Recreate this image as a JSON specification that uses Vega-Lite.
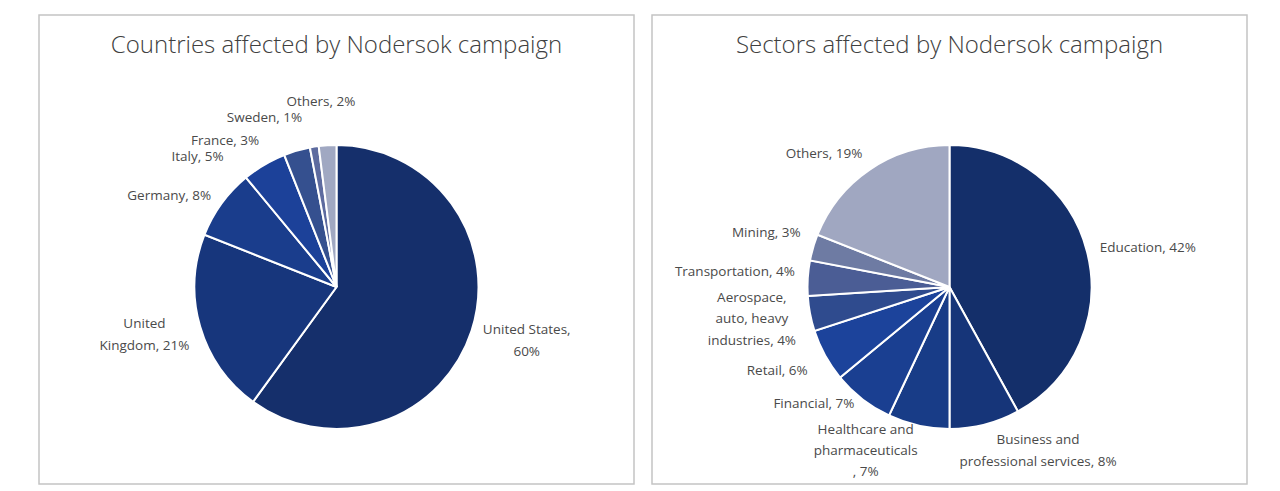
{
  "$schema": "https://vega.github.io/schema/vega-lite/v6.json",
  "padding": {"left": 38, "top": 14, "right": 0, "bottom": 0},
  "autosize": {"type": "pad"},
  "spacing": 16,
  "background": "white",
  "config": {
    "view": {"stroke": "#c4c4c4", "strokeWidth": 1.5},
    "font": "Open Sans",
    "title": {"fontSize": 24, "fontWeight": 300, "color": "#404040", "anchor": "middle", "offset": -43, "font": "Open Sans"}
  },
  "resolve": {"scale": {"color": "independent", "theta": "independent"}},
  "datasets": {
    "countries": [
      {"Country": "United States", "Value": 60, "i": 1, "Label": "United States,\n60%"},
      {"Country": "United Kingdom", "Value": 21, "i": 2, "Label": "United\nKingdom, 21%"},
      {"Country": "Germany", "Value": 8, "i": 3, "Label": "Germany, 8%"},
      {"Country": "Italy", "Value": 5, "i": 4, "Label": "Italy, 5%"},
      {"Country": "France", "Value": 3, "i": 5, "Label": "France, 3%"},
      {"Country": "Sweden", "Value": 1, "i": 6, "Label": "Sweden, 1%"},
      {"Country": "Others", "Value": 2, "i": 7, "Label": "Others, 2%"}
    ],
    "sectors": [
      {"Sector": "Education", "Value": 42, "i": 1, "Label": "Education, 42%"},
      {"Sector": "Business and professional services", "Value": 8, "i": 2, "Label": "Business and\nprofessional services, 8%"},
      {"Sector": "Healthcare and pharmaceuticals", "Value": 7, "i": 3, "Label": "Healthcare and\npharmaceuticals\n, 7%"},
      {"Sector": "Financial", "Value": 7, "i": 4, "Label": "Financial, 7%"},
      {"Sector": "Retail", "Value": 6, "i": 5, "Label": "Retail, 6%"},
      {"Sector": "Aerospace, auto, heavy industries", "Value": 4, "i": 6, "Label": "Aerospace,\nauto, heavy\nindustries, 4%"},
      {"Sector": "Transportation", "Value": 4, "i": 7, "Label": "Transportation, 4%"},
      {"Sector": "Mining", "Value": 3, "i": 8, "Label": "Mining, 3%"},
      {"Sector": "Others", "Value": 19, "i": 9, "Label": "Others, 19%"}
    ]
  },
  "hconcat": [
    {
      "width": 595,
      "height": 469,
      "view": {"stroke": "#c4c4c4", "strokeWidth": 1.5},
      "title": {"text": "Countries affected by Nodersok campaign"},
      "data": {"name": "countries"},
      "encoding": {
        "theta": {"field": "Value", "type": "quantitative", "stack": true},
        "order": {"field": "i", "type": "quantitative"},
        "color": {
          "field": "Country", "type": "nominal", "legend": null,
          "scale": {
            "domain": ["United States", "United Kingdom", "Germany", "Italy", "France", "Sweden", "Others"],
            "range": ["#152f6b", "#17367c", "#1a3d8c", "#1c4199", "#35508f", "#5d6b9f", "#a0a8c2"]
          }
        }
      },
      "layer": [
        {"mark": {"type": "arc", "outerRadius": 142, "stroke": "white", "strokeWidth": 2, "yOffset": 37.5}},
        {
          "mark": {"type": "text", "radius": 200, "align": "center", "baseline": "middle", "lineBreak": "\n", "lineHeight": 22, "yOffset": 37.5, "dy": -19, "fontSize": 13.5},
          "encoding": {
            "detail": {"field": "Country", "type": "nominal"},
            "color": {"value": "#4a4a4a"},
            "text": {"condition": {"test": "indexof(['United States','United Kingdom'], datum.Country) >= 0", "field": "Label", "type": "nominal"}, "value": ""}
          }
        },
        {
          "mark": {"type": "text", "radius": 185, "align": "center", "baseline": "middle", "yOffset": 37.5, "dx": -4, "fontSize": 13.5},
          "encoding": {
            "detail": {"field": "Country", "type": "nominal"},
            "color": {"value": "#4a4a4a"},
            "text": {"condition": {"test": "datum.Country === 'Others'", "field": "Label", "type": "nominal"}, "value": ""}
          }
        },
        {
          "mark": {"type": "text", "radius": 155, "align": "right", "baseline": "middle", "yOffset": 37.5, "fontSize": 13.5},
          "encoding": {
            "detail": {"field": "Country", "type": "nominal"},
            "color": {"value": "#4a4a4a"},
            "text": {"condition": {"test": "datum.Country === 'Germany'", "field": "Label", "type": "nominal"}, "value": ""}
          }
        },
        {
          "mark": {"type": "text", "radius": 155, "align": "right", "baseline": "middle", "yOffset": 37.5, "dx": -34, "dy": 3, "fontSize": 13.5},
          "encoding": {
            "detail": {"field": "Country", "type": "nominal"},
            "color": {"value": "#4a4a4a"},
            "text": {"condition": {"test": "indexof(['Italy','France'], datum.Country) >= 0", "field": "Label", "type": "nominal"}, "value": ""}
          }
        },
        {
          "mark": {"type": "text", "radius": 155, "align": "right", "baseline": "middle", "yOffset": 37.5, "dx": -10, "dy": -16, "fontSize": 13.5},
          "encoding": {
            "detail": {"field": "Country", "type": "nominal"},
            "color": {"value": "#4a4a4a"},
            "text": {"condition": {"test": "datum.Country === 'Sweden'", "field": "Label", "type": "nominal"}, "value": ""}
          }
        }
      ]
    },
    {
      "width": 595,
      "height": 469,
      "view": {"stroke": "#c4c4c4", "strokeWidth": 1.5},
      "title": {"text": "Sectors affected by Nodersok campaign"},
      "data": {"name": "sectors"},
      "encoding": {
        "theta": {"field": "Value", "type": "quantitative", "stack": true},
        "order": {"field": "i", "type": "quantitative"},
        "color": {
          "field": "Sector", "type": "nominal", "legend": null,
          "scale": {
            "domain": ["Education", "Business and professional services", "Healthcare and pharmaceuticals", "Financial", "Retail", "Aerospace, auto, heavy industries", "Transportation", "Mining", "Others"],
            "range": ["#142f6a", "#163579", "#183c87", "#1a3f91", "#1c439b", "#2f4b8e", "#4b5d95", "#6e7ba3", "#a0a7c1"]
          }
        }
      },
      "layer": [
        {"mark": {"type": "arc", "outerRadius": 142, "stroke": "white", "strokeWidth": 2, "yOffset": 37.5}},
        {
          "mark": {"type": "text", "radius": 190, "align": "center", "baseline": "middle", "lineBreak": "\n", "lineHeight": 21.5, "yOffset": 37.5, "dx": -11, "dy": -25, "fontSize": 13.5},
          "encoding": {
            "detail": {"field": "Sector", "type": "nominal"},
            "color": {"value": "#4a4a4a"},
            "text": {"condition": {"test": "datum.Sector === 'Aerospace, auto, heavy industries'", "field": "Label", "type": "nominal"}, "value": ""}
          }
        },
        {
          "mark": {"type": "text", "radius": 155, "align": "right", "baseline": "middle", "yOffset": 37.5, "dy": -5, "fontSize": 13.5},
          "encoding": {
            "detail": {"field": "Sector", "type": "nominal"},
            "color": {"value": "#4a4a4a"},
            "text": {"condition": {"test": "indexof(['Financial','Transportation','Others'], datum.Sector) >= 0", "field": "Label", "type": "nominal"}, "value": ""}
          }
        },
        {
          "mark": {"type": "text", "radius": 155, "align": "right", "baseline": "middle", "yOffset": 37.5, "dy": -11, "fontSize": 13.5},
          "encoding": {
            "detail": {"field": "Sector", "type": "nominal"},
            "color": {"value": "#4a4a4a"},
            "text": {"condition": {"test": "datum.Sector === 'Mining'", "field": "Label", "type": "nominal"}, "value": ""}
          }
        },
        {
          "mark": {"type": "text", "radius": 155, "align": "right", "baseline": "middle", "yOffset": 37.5, "dx": -6, "dy": 9, "fontSize": 13.5},
          "encoding": {
            "detail": {"field": "Sector", "type": "nominal"},
            "color": {"value": "#4a4a4a"},
            "text": {"condition": {"test": "datum.Sector === 'Retail'", "field": "Label", "type": "nominal"}, "value": ""}
          }
        },
        {
          "mark": {"type": "text", "radius": 155, "align": "left", "baseline": "middle", "yOffset": 37.5, "fontSize": 13.5},
          "encoding": {
            "detail": {"field": "Sector", "type": "nominal"},
            "color": {"value": "#4a4a4a"},
            "text": {"condition": {"test": "datum.Sector === 'Education'", "field": "Label", "type": "nominal"}, "value": ""}
          }
        },
        {
          "mark": {"type": "text", "radius": 155, "align": "center", "baseline": "middle", "lineBreak": "\n", "lineHeight": 22, "yOffset": 37.5, "dx": 50, "dy": 3, "fontSize": 13.5},
          "encoding": {
            "detail": {"field": "Sector", "type": "nominal"},
            "color": {"value": "#4a4a4a"},
            "text": {"condition": {"test": "datum.Sector === 'Business and professional services'", "field": "Label", "type": "nominal"}, "value": ""}
          }
        },
        {
          "mark": {"type": "text", "radius": 155, "align": "center", "baseline": "middle", "lineBreak": "\n", "lineHeight": 21, "yOffset": 37.5, "dx": -50, "dy": -8, "fontSize": 13.5},
          "encoding": {
            "detail": {"field": "Sector", "type": "nominal"},
            "color": {"value": "#4a4a4a"},
            "text": {"condition": {"test": "datum.Sector === 'Healthcare and pharmaceuticals'", "field": "Label", "type": "nominal"}, "value": ""}
          }
        }
      ]
    }
  ]
}
